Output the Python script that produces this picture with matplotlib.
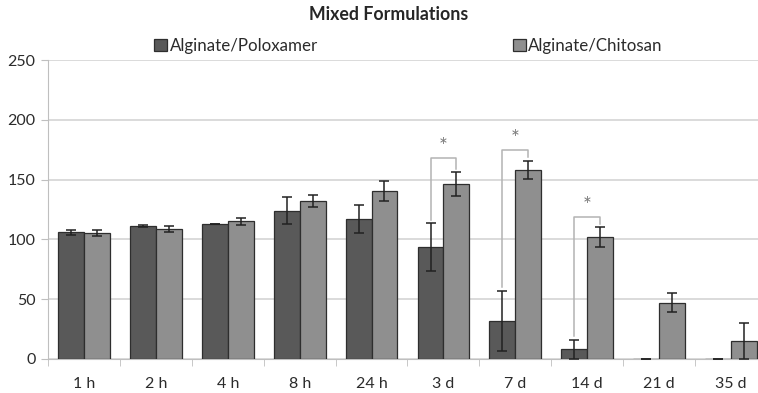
import matplotlib.pyplot as plt
import numpy as np

plt.rcParams['font.family'] = ['Lato', 'DejaVu Sans']

categories = ['1 h', '2 h', '4 h', '8 h', '24 h', '3 d', '7 d', '14 d', '21 d', '35 d']
poloxamer = [106, 111, 113, 124, 117, 93.5, 32, 8, 0, 0]
poloxamer_err = [2, 1, 0, 11.5, 12, 20, 25, 8, 0, 0]
chitosan = [105, 108.5, 115, 132.5, 140.5, 146, 158, 102, 47, 15]
chitosan_err = [2.5, 2.5, 3, 5, 8, 10, 7.5, 8, 8, 15]

# significance brackets: group index, bracket top
sig_groups = [5, 6, 7]
sig_tops = [168, 175, 119]

fig = plt.figure(figsize=(7.58, 3.93), dpi=100)
ax = fig.add_axes([48 / 758, 34 / 393, 719 / 758, 299 / 393])

x = np.arange(len(categories))
w = 0.36
ax.bar(x - w / 2, poloxamer, w, color='#595959', edgecolor='#2e2e2e', linewidth=0.9,
       label='Alginate/Poloxamer', zorder=3)
ax.bar(x + w / 2, chitosan, w, color='#8f8f8f', edgecolor='#2e2e2e', linewidth=0.9,
       label='Alginate/Chitosan', zorder=3)
ax.errorbar(x - w / 2, poloxamer, yerr=poloxamer_err, fmt='none', ecolor='#222222',
            elinewidth=1.1, capsize=3.5, capthick=1.1, zorder=4)
ax.errorbar(x + w / 2, chitosan, yerr=chitosan_err, fmt='none', ecolor='#222222',
            elinewidth=1.1, capsize=3.5, capthick=1.1, zorder=4)

for g, top in zip(sig_groups, sig_tops):
    xl, xr = g - w / 2, g + w / 2
    yl = poloxamer[g] + poloxamer_err[g] + 3
    yr = chitosan[g] + chitosan_err[g] + 3
    ax.plot([xl, xl, xr, xr], [yl, top, top, yr], color='#b3b3b3', lw=1.1, zorder=2)
    ax.text(g, top + 0.5, '*', ha='center', va='bottom', fontsize=15, color='#7a7a7a')

ax.set_xlim(-0.5, len(categories) - 0.5)
ax.set_ylim(0, 250)
ax.set_yticks(np.arange(0, 251, 50))
ax.set_xticks(x)
ax.set_xticklabels(categories)
ax.set_xticks(np.arange(-0.5, len(categories), 1), minor=True)
ax.tick_params(axis='x', which='major', length=0, pad=13, labelsize=11.5, labelcolor='#2b2b2b')
ax.tick_params(axis='x', which='minor', length=5, color='#bfbfbf')
ax.tick_params(axis='y', length=5, color='#bfbfbf', pad=4, labelsize=11.5, labelcolor='#2b2b2b')

ax.grid(axis='y', color='#d4d4d4', lw=1.2, zorder=0)
for side in ['top', 'right']:
    ax.spines[side].set_visible(False)
ax.spines['left'].set_color('#bfbfbf')
ax.spines['bottom'].set_color('#bfbfbf')

fig.text(389 / 758, 1 - 15 / 393, 'Mixed Formulations', ha='center', va='center',
         fontsize=12.8, fontweight='bold', color='#262626')
fig.legend(loc='center left', bbox_to_anchor=(154 / 758, 1 - 46 / 393), ncol=2,
           frameon=False, fontsize=12.2, handlelength=0.77, handleheight=0.77,
           handletextpad=0.15, columnspacing=11.5, borderaxespad=0, borderpad=0,
           labelcolor='#2b2b2b')

fig.savefig('out.png', dpi=100)
